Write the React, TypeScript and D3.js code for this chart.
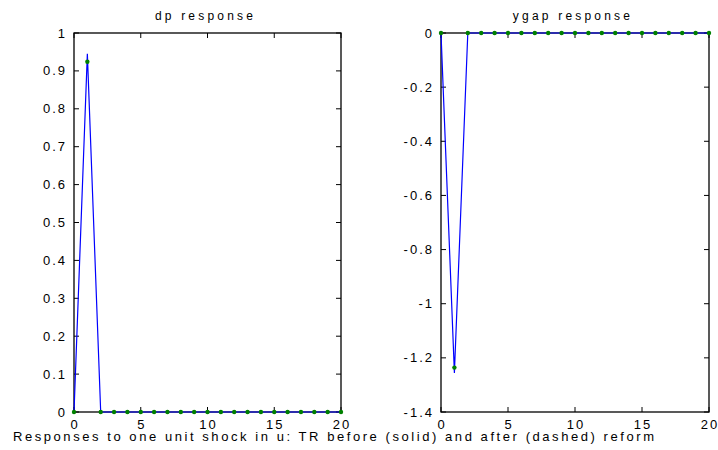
import React from "react";
import * as d3 from "d3";

const steps = d3.range(0, 21);
const dpBefore = [0, 0.945, 0, 0, 0, 0, 0, 0, 0, 0, 0, 0, 0, 0, 0, 0, 0, 0, 0, 0, 0];
const dpAfter = [0, 0.924, 0, 0, 0, 0, 0, 0, 0, 0, 0, 0, 0, 0, 0, 0, 0, 0, 0, 0, 0];
const ygapBefore = [0, -1.256, 0, 0, 0, 0, 0, 0, 0, 0, 0, 0, 0, 0, 0, 0, 0, 0, 0, 0, 0];
const ygapAfter = [0, -1.236, 0, 0, 0, 0, 0, 0, 0, 0, 0, 0, 0, 0, 0, 0, 0, 0, 0, 0, 0];
const xTicks = [0, 5, 10, 15, 20];
const dpTicks = [0, 0.1, 0.2, 0.3, 0.4, 0.5, 0.6, 0.7, 0.8, 0.9, 1];
const ygapTicks = [0, -0.2, -0.4, -0.6, -0.8, -1, -1.2, -1.4];
const caption = "Responses to one unit shock in u: TR before (solid) and after (dashed) reform";

const FONT = "Liberation Sans, Arial, sans-serif";

type PanelProps = {
  left: number;
  right: number;
  top: number;
  bottom: number;
  title: string;
  domain: [number, number];
  yTicks: number[];
  before: number[];
  after: number[];
};

function Panel({ left, right, top, bottom, title, domain, yTicks, before, after }: PanelProps) {
  const x = d3.scaleLinear().domain([0, 20]).range([left, right]);
  const y = d3.scaleLinear().domain(domain).range([bottom, top]);
  const line = d3
    .line<number>()
    .x((_, i) => x(steps[i]))
    .y((d) => y(d));
  const tl = 5;
  return (
    <g>
      <text
        x={(left + right) / 2 - 2}
        y={20}
        textAnchor="middle"
        fontFamily={FONT}
        fontSize={12}
        letterSpacing={3.2}
        fill="#000"
      >
        {title}
      </text>
      {xTicks.map((t) => (
        <g key={"x" + t}>
          <line x1={x(t)} x2={x(t)} y1={bottom} y2={bottom - tl} stroke="#000" strokeWidth={1} />
          <line x1={x(t)} x2={x(t)} y1={top} y2={top + tl} stroke="#000" strokeWidth={1} />
          <text
            x={x(t) + 1}
            y={429}
            textAnchor="middle"
            fontFamily={FONT}
            fontSize={13}
            letterSpacing={2}
            fill="#000"
          >
            {d3.format("")(t)}
          </text>
        </g>
      ))}
      {yTicks.map((t) => (
        <g key={"y" + t}>
          <line x1={left} x2={left + tl} y1={y(t)} y2={y(t)} stroke="#000" strokeWidth={1} />
          <line x1={right} x2={right - tl} y1={y(t)} y2={y(t)} stroke="#000" strokeWidth={1} />
          <text
            x={left - 7}
            y={y(t) + 4.5}
            textAnchor="end"
            fontFamily={FONT}
            fontSize={13}
            letterSpacing={2}
            fill="#000"
          >
            {String(+t.toFixed(1))}
          </text>
        </g>
      ))}
      <rect
        x={left}
        y={top}
        width={right - left}
        height={bottom - top}
        fill="none"
        stroke="#000"
        strokeWidth={1.3}
      />
      <path d={line(before) || ""} fill="none" stroke="#0000ff" strokeWidth={1.2} />
      {after.map((v, i) => (
        <circle key={"p" + i} cx={x(steps[i])} cy={y(v)} r={2.2} fill="#008000" />
      ))}
    </g>
  );
}

export default function App() {
  return (
    <svg
      width={718}
      height={450}
      style={{ position: "absolute", left: 0, top: 0, background: "#fff" }}
    >
      <rect x={0} y={0} width={718} height={450} fill="#fff" />
      <Panel
        left={74}
        right={341}
        top={33}
        bottom={412}
        title="dp response"
        domain={[0, 1]}
        yTicks={dpTicks}
        before={dpBefore}
        after={dpAfter}
      />
      <Panel
        left={441}
        right={709}
        top={33}
        bottom={412}
        title="ygap response"
        domain={[-1.4, 0]}
        yTicks={ygapTicks}
        before={ygapBefore}
        after={ygapAfter}
      />
      <text
        x={13}
        y={441}
        fontFamily={FONT}
        fontSize={13}
        textLength={641}
        lengthAdjust="spacing"
        fill="#000"
      >
        {caption}
      </text>
    </svg>
  );
}
